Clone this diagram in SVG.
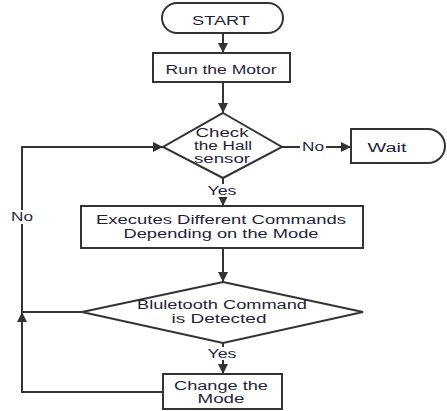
<svg xmlns="http://www.w3.org/2000/svg" width="447" height="411" viewBox="0 0 447 411">
<defs>
<marker id="arr" viewBox="0 0 10 10" refX="10" refY="5" markerWidth="10" markerHeight="10" markerUnits="userSpaceOnUse" orient="auto">
<path d="M0,0 L10,5 L0,10 Z" fill="#333"/>
</marker>
<style>
.shape{fill:#fff;stroke:#333;stroke-width:2}
.line{fill:none;stroke:#333;stroke-width:2}
text{font-family:"Liberation Sans",Arial,sans-serif;font-size:12px;fill:#1f1f3a;text-anchor:middle}
.bg{fill:#fff}
</style>
</defs>
<rect width="447" height="411" fill="#fff"/>
<g id="connectors">
<line class="line" x1="223" y1="33" x2="223" y2="53" marker-end="url(#arr)"/>
<line class="line" x1="223" y1="82" x2="223" y2="113" marker-end="url(#arr)"/>
<line class="line" x1="282" y1="147" x2="351" y2="147" marker-end="url(#arr)"/>
<line class="line" x1="223" y1="178" x2="223" y2="206" marker-end="url(#arr)"/>
<line class="line" x1="223" y1="248" x2="223" y2="282" marker-end="url(#arr)"/>
<line class="line" x1="223" y1="343" x2="223" y2="374" marker-end="url(#arr)"/>
<polyline class="line" points="163,392 22,392 22,312" marker-end="url(#arr)"/>
<line class="line" x1="82" y1="312" x2="22" y2="312"/>
<polyline class="line" points="22,312 22,147 163,147" marker-end="url(#arr)"/>
<rect class="bg" x="300" y="140" width="26" height="14"/>
<text x="313" y="151" textLength="22" lengthAdjust="spacingAndGlyphs">No</text>
<rect class="bg" x="205" y="184" width="33" height="13"/>
<text x="222" y="195" textLength="29" lengthAdjust="spacingAndGlyphs">Yes</text>
<rect class="bg" x="205" y="347" width="33" height="13"/>
<text x="222" y="358" textLength="29" lengthAdjust="spacingAndGlyphs">Yes</text>
<rect class="bg" x="9" y="210" width="26" height="14"/>
<text x="22" y="221" textLength="22" lengthAdjust="spacingAndGlyphs">No</text>
</g>
<g id="start">
<rect class="shape" x="162" y="3" width="121" height="30" rx="15" ry="15"/>
<text x="221" y="25" textLength="58" lengthAdjust="spacingAndGlyphs">START</text>
</g>
<g id="run-motor">
<rect class="shape" x="153" y="53" width="137" height="29"/>
<text x="221" y="74" textLength="111" lengthAdjust="spacingAndGlyphs">Run the Motor</text>
</g>
<g id="check-hall">
<polygon class="shape" points="223,113 282,147 223,178 163,147"/>
<text x="222" y="137" textLength="53" lengthAdjust="spacingAndGlyphs">Check</text>
<text x="223" y="150" textLength="58" lengthAdjust="spacingAndGlyphs">the Hall</text>
<text x="222" y="163" textLength="56" lengthAdjust="spacingAndGlyphs">sensor</text>
</g>
<g id="wait">
<path class="shape" d="M351,129 H428 A17,17 0 0 1 428,163 H351 Z"/>
<text x="387" y="152" textLength="39" lengthAdjust="spacingAndGlyphs">Wait</text>
</g>
<g id="execute">
<rect class="shape" x="81" y="206" width="282" height="42"/>
<text x="221" y="224" textLength="250" lengthAdjust="spacingAndGlyphs">Executes Different Commands</text>
<text x="221" y="238" textLength="195" lengthAdjust="spacingAndGlyphs">Depending on the Mode</text>
</g>
<g id="bluetooth">
<polygon class="shape" points="223,282 363,312 223,343 82,312"/>
<text x="222" y="309" textLength="170" lengthAdjust="spacingAndGlyphs">Bluletooth Command</text>
<text x="219" y="323" textLength="95" lengthAdjust="spacingAndGlyphs">is Detected</text>
</g>
<g id="change-mode">
<rect class="shape" x="163" y="374" width="119" height="35"/>
<text x="221" y="390" textLength="94" lengthAdjust="spacingAndGlyphs">Change the</text>
<text x="221" y="403" textLength="47" lengthAdjust="spacingAndGlyphs">Mode</text>
</g>
</svg>
